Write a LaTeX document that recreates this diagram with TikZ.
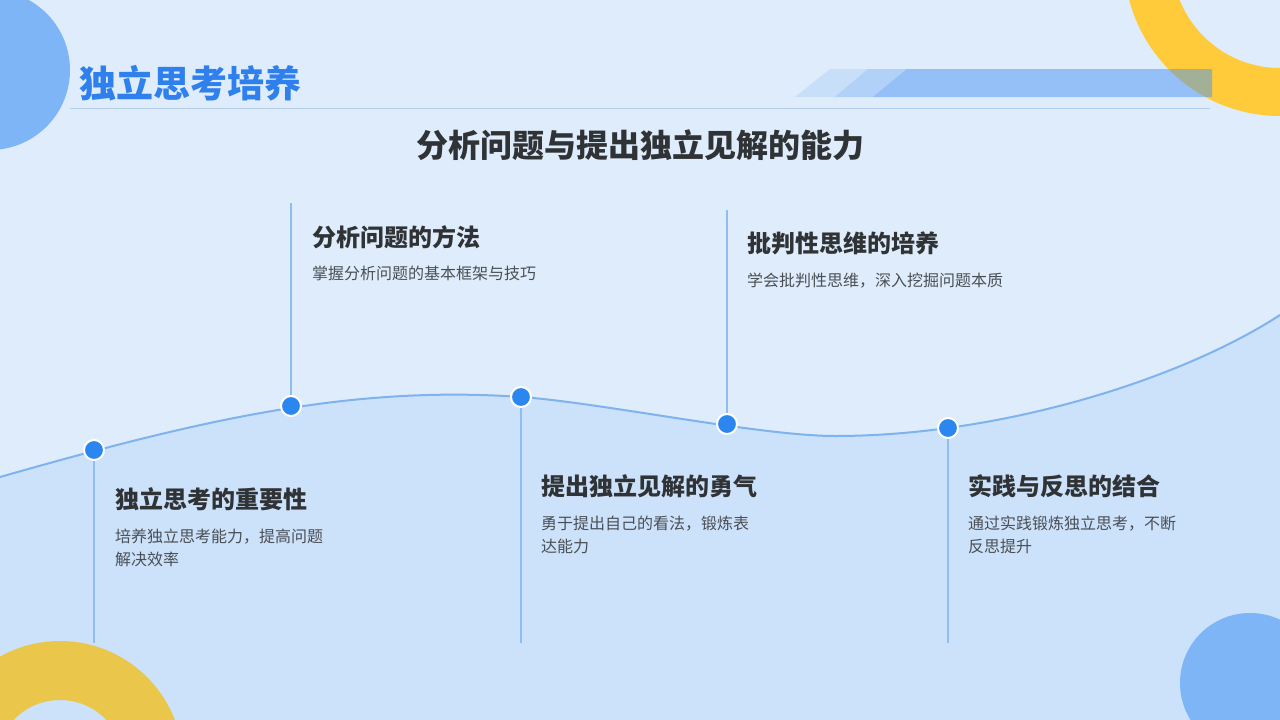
\documentclass[tikz,border=0pt]{standalone}
\usepackage{fontspec}
\setmainfont{Noto Sans CJK SC}
\definecolor{bgtop}{HTML}{DFECFB}
\definecolor{bgbot}{HTML}{CCE1FA}
\definecolor{curvec}{HTML}{7EB3EE}
\definecolor{vlinec}{HTML}{90BDF0}
\definecolor{dotc}{HTML}{2B86F0}
\definecolor{decoblue}{HTML}{7DB5F7}
\definecolor{yellowa}{HTML}{FFCB3B}
\definecolor{yellowb}{HTML}{EAC64B}
\definecolor{barblue}{HTML}{4A95F5}
\definecolor{sepc}{HTML}{B5CDE6}
\definecolor{titleblue}{HTML}{2F80ED}
\definecolor{darktext}{HTML}{303336}
\definecolor{desctext}{HTML}{4A4F55}
\begin{document}
\begin{tikzpicture}[x=1pt,y=-1pt,
  dot/.style={circle,fill=dotc,draw=white,line width=2pt,minimum size=20pt,inner sep=0pt},
  vline/.style={draw=vlinec,line width=1.5pt},
  cardtitle/.style={anchor=west,inner sep=0pt,text=darktext,font=\fontsize{24}{28}\selectfont\bfseries},
  carddesc/.style={anchor=north west,inner sep=0pt,text=desctext,align=left,font=\fontsize{16}{23}\selectfont}]
\useasboundingbox (0,0) rectangle (1280,720);
\clip (0,0) rectangle (1280,720);
\def\wave{(0,477) .. controls (200,420) and (350,385) .. (521,397) .. controls (600,402.5) and (760,436) .. (835,436) .. controls (1000,436) and (1180,380) .. (1280,315)}
% background
\fill[bgtop] (0,0) rectangle (1280,720);
\fill[bgbot] \wave -- (1280,720) -- (0,720) -- cycle;
% decorations
\fill[decoblue] (-10,70) circle[radius=80];
\fill[yellowa,even odd rule] (1280,-40) circle[radius=156] (1280,-40) circle[radius=108];
\fill[decoblue] (1250,683) circle[radius=70];
% stripes
\fill[barblue,opacity=0.15] (795,97) -- (830,69) -- (868,69) -- (835,97) -- cycle;
\fill[barblue,opacity=0.3] (835,97) -- (868,69) -- (907,69) -- (873,97) -- cycle;
\fill[barblue,opacity=0.5] (873,97) -- (907,69) -- (1212,69) -- (1212,97) -- cycle;
% separator
\coordinate (s1) at (70,108);
\coordinate (s2) at (1210,108);
\draw[sepc,line width=1pt] (s1) -- (s2);
% titles
\node[anchor=west,inner sep=0pt,text=titleblue,font=\fontsize{37}{40}\selectfont\bfseries] (title) at (79,83) {独立思考培养};
\node[inner sep=0pt,text=darktext,font=\fontsize{32}{36}\selectfont\bfseries] (subtitle) at (640,145) {分析问题与提出独立见解的能力};
% curve
\draw[curvec,line width=2pt] \wave;
% dots and lines
\coordinate (e1) at (94,643);
\coordinate (e2) at (291,203);
\coordinate (e3) at (521,643);
\coordinate (e4) at (727,210);
\coordinate (e5) at (948,643);
\path (94,450) coordinate (p1) (291,406) coordinate (p2) (521,397) coordinate (p3) (727,424) coordinate (p4) (948,428) coordinate (p5);
\draw[vline] (p1) -- (e1);
\draw[vline] (p2) -- (e2);
\draw[vline] (p3) -- (e3);
\draw[vline] (p4) -- (e4);
\draw[vline] (p5) -- (e5);
\node[dot] (d1) at (p1) {};
\node[dot] (d2) at (p2) {};
\node[dot] (d3) at (p3) {};
\node[dot] (d4) at (p4) {};
\node[dot] (d5) at (p5) {};
% bottom-left ring
\fill[yellowb,even odd rule] (60,764) circle[radius=123] (60,764) circle[radius=64];
% cards
\node[cardtitle] (t1) at (115,499) {独立思考的重要性};
\node[carddesc] (c1) at (115,529) {培养独立思考能力，提高问题\\解决效率};
\node[cardtitle] (t2) at (312,237) {分析问题的方法};
\node[carddesc] (c2) at (312,266) {掌握分析问题的基本框架与技巧};
\node[cardtitle] (t3) at (541,486) {提出独立见解的勇气};
\node[carddesc] (c3) at (541,516) {勇于提出自己的看法，锻炼表\\达能力};
\node[cardtitle] (t4) at (747,243) {批判性思维的培养};
\node[carddesc] (c4) at (747,273) {学会批判性思维，深入挖掘问题本质};
\node[cardtitle] (t5) at (968,486) {实践与反思的结合};
\node[carddesc] (c5) at (968,516) {通过实践锻炼独立思考，不断\\反思提升};
\end{tikzpicture}
\end{document}
